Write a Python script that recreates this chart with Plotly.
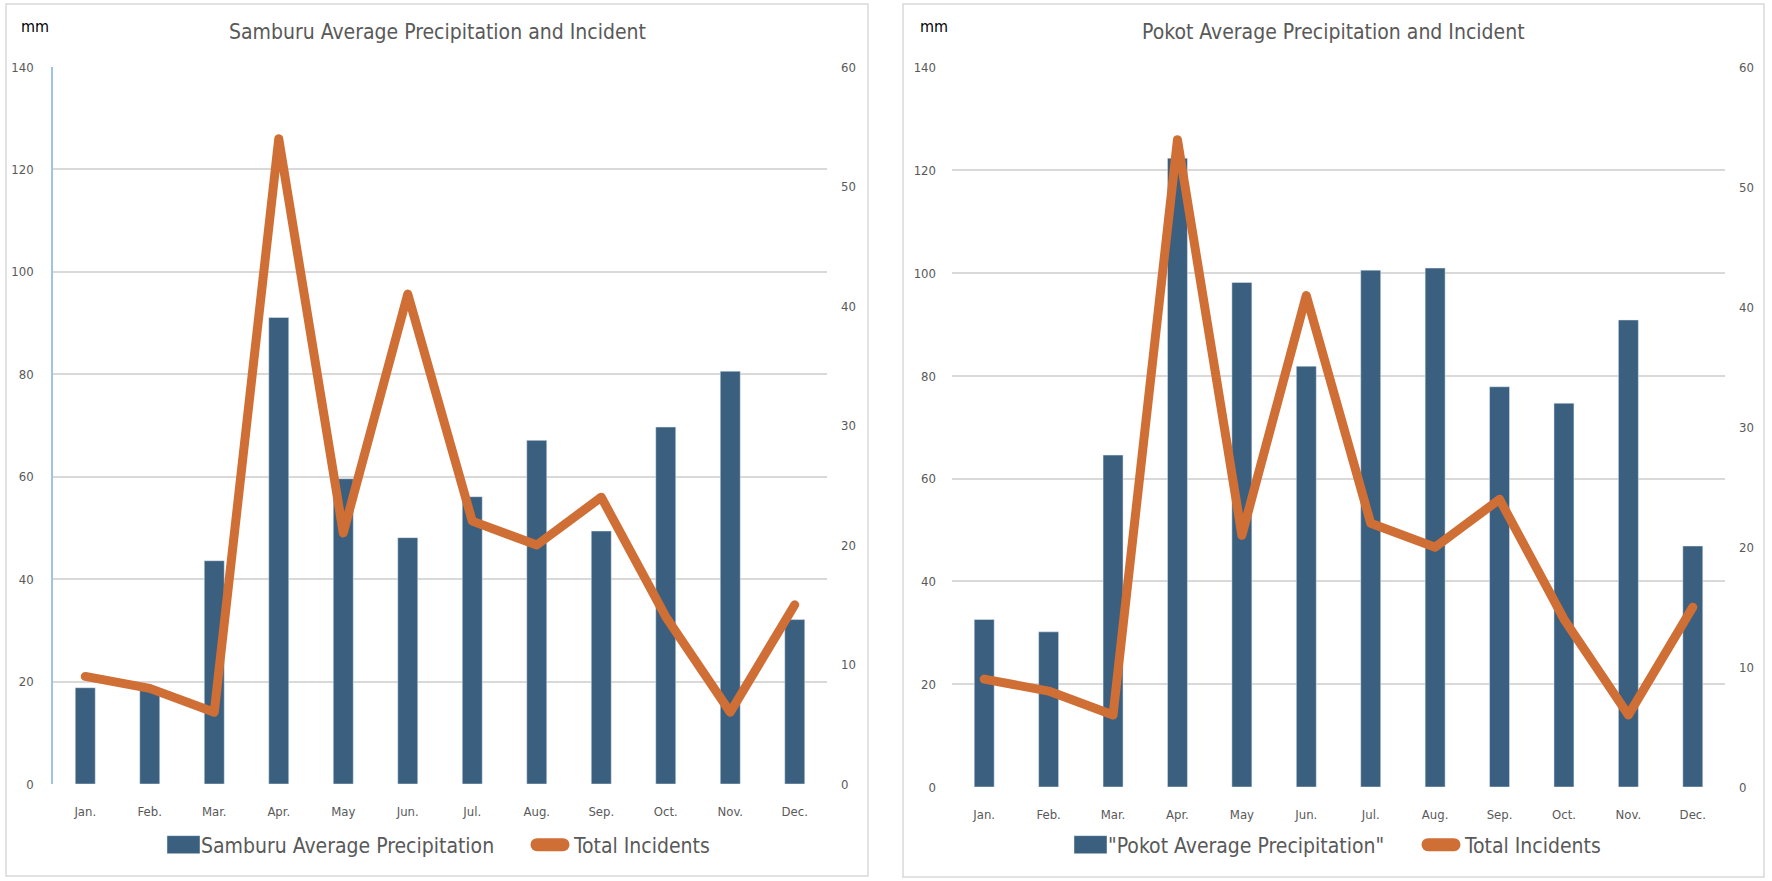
import plotly.graph_objects as go

months = ["Jan.", "Feb.", "Mar.", "Apr.", "May", "Jun.", "Jul.", "Aug.", "Sep.", "Oct.", "Nov.", "Dec."]
samburu_precip = [18.8, 18.5, 43.6, 91.1, 59.6, 48.1, 56.1, 67.1, 49.4, 69.7, 80.6, 32.1]
pokot_precip = [32.6, 30.2, 64.6, 122.4, 98.2, 81.9, 100.6, 101.0, 77.9, 74.7, 90.9, 46.9]
incidents = [9, 8, 6, 54, 21, 41, 22, 20, 24, 14, 6, 15]

left_ticks = [0, 20, 40, 60, 80, 100, 120, 140]
right_ticks = [0, 10, 20, 30, 40, 50, 60]

W, H = 1772, 881
FONT = "DejaVu Sans Condensed, Liberation Sans, sans-serif"
BAR = "#3A5F7F"
ORANGE = "#CF6F36"
GRAY = "#595959"
GRID = "#D9D9D9"


def px(x):
    return x / W


def py(y):
    return (H - y) / H


fig = go.Figure()
fig.add_trace(go.Bar(x=months, y=samburu_precip, name="Samburu Average Precipitation",
                     marker=dict(color=BAR), xaxis="x", yaxis="y", legend="legend"))
fig.add_trace(go.Scatter(x=months, y=incidents, name="Total Incidents", mode="lines",
                         line=dict(color=ORANGE, width=9), xaxis="x", yaxis="y2", legend="legend"))
fig.add_trace(go.Bar(x=months, y=pokot_precip, name='"Pokot Average Precipitation"',
                     marker=dict(color=BAR), xaxis="x2", yaxis="y3", legend="legend2"))
fig.add_trace(go.Scatter(x=months, y=incidents, name="Total Incidents", mode="lines",
                         line=dict(color=ORANGE, width=9), xaxis="x2", yaxis="y4", legend="legend2"))

tickfont = dict(family=FONT, size=13, color=GRAY)
xcommon = dict(showgrid=False, showline=False, ticks="", tickfont=tickfont, ticklabelstandoff=18,
               fixedrange=True, automargin=False)
ycommon_left = dict(range=[0, 140], tickvals=left_ticks, showgrid=True, gridcolor=GRID, gridwidth=1.5,
                    zeroline=False, ticks="", tickfont=tickfont, ticklabelstandoff=15, automargin=False,
                    fixedrange=True)
ycommon_right = dict(range=[0, 60], tickvals=right_ticks, showgrid=False, zeroline=False, ticks="",
                     tickfont=tickfont, ticklabelstandoff=13, side="right", automargin=False,
                     fixedrange=True)

legend_font = dict(family=FONT, size=21, color=GRAY)

fig.update_layout(
    width=W, height=H, margin=dict(l=0, r=0, t=0, b=0, pad=0, autoexpand=False),
    paper_bgcolor="white", plot_bgcolor="white",
    bargap=0.69, showlegend=True, hovermode=False,
    xaxis=dict(domain=[px(53), px(827)], anchor="y", **xcommon),
    yaxis=dict(domain=[py(784), py(67)], anchor="x", showline=True, linecolor="#9DC3E6", linewidth=1.5,
               **ycommon_left),
    yaxis2=dict(overlaying="y", anchor="x", **ycommon_right),
    xaxis2=dict(domain=[px(952), px(1725)], anchor="y3", **xcommon),
    yaxis3=dict(domain=[py(787), py(67.7)], anchor="x2", showline=False, **ycommon_left),
    yaxis4=dict(overlaying="y3", anchor="x2", **ycommon_right),
    legend=dict(orientation="h", x=px(161), xanchor="left", y=py(845), yanchor="middle",
                font=legend_font, bgcolor="rgba(0,0,0,0)", itemwidth=30,
                entrywidth=328, entrywidthmode="pixels"),
    legend2=dict(orientation="h", x=px(1068), xanchor="left", y=py(845), yanchor="middle",
                 font=legend_font, bgcolor="rgba(0,0,0,0)", itemwidth=30,
                 entrywidth=312, entrywidthmode="pixels"),
    shapes=[
        dict(type="rect", xref="paper", yref="paper", x0=px(6), x1=px(868), y0=py(876), y1=py(4),
             line=dict(color=GRID, width=1.5), layer="below"),
        dict(type="rect", xref="paper", yref="paper", x0=px(903), x1=px(1764), y0=py(877), y1=py(4),
             line=dict(color=GRID, width=1.5), layer="below"),
    ],
    annotations=[
        dict(text="Samburu Average Precipitation and Incident", xref="paper", yref="paper",
             x=px(437), y=py(32), xanchor="center", yanchor="middle", showarrow=False,
             font=dict(family=FONT, size=21, color=GRAY)),
        dict(text="Pokot Average Precipitation and Incident", xref="paper", yref="paper",
             x=px(1333.5), y=py(32), xanchor="center", yanchor="middle", showarrow=False,
             font=dict(family=FONT, size=21, color=GRAY)),
        dict(text="mm", xref="paper", yref="paper", x=px(35), y=py(26), xanchor="center",
             yanchor="middle", showarrow=False, font=dict(family=FONT, size=16, color="black")),
        dict(text="mm", xref="paper", yref="paper", x=px(934), y=py(26), xanchor="center",
             yanchor="middle", showarrow=False, font=dict(family=FONT, size=16, color="black")),
    ],
)

post = (
    "document.body.style.margin='0';document.body.style.overflow='hidden';"
    "document.querySelectorAll('.scatterlayer .js-line').forEach(function(p){"
    "p.style.strokeLinejoin='round';p.style.strokeLinecap='round';});"
    "document.querySelectorAll('.legendlines path').forEach(function(p){"
    "p.setAttribute('d','M3,0h26');p.style.strokeWidth='13px';p.style.strokeLinecap='round';});"
    "document.querySelectorAll('.legendpoints path').forEach(function(p){"
    "p.setAttribute('d','M-14,-9H19V9H-14Z');});"
)
fig.write_html("out.html", config={"displayModeBar": False}, post_script=post)
